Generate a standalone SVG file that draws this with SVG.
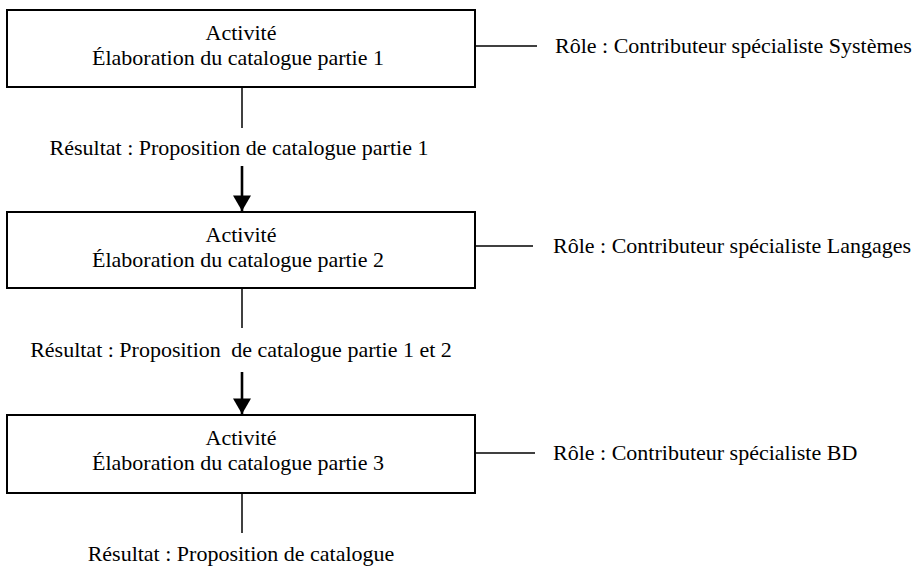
<svg xmlns="http://www.w3.org/2000/svg" width="915" height="569" viewBox="0 0 915 569">
<style>
.box{fill:#fff;stroke:#000;stroke-width:2}
.t{font-family:'Liberation Serif','Times New Roman',Times,serif;font-size:22px;fill:#000}
.c{text-anchor:middle}
.ln{stroke:#000;stroke-width:1.5;fill:none}
.ar{stroke:#000;stroke-width:2.6;fill:none}
</style>
<defs>
<marker id="ah" markerWidth="6" markerHeight="7" refX="6" refY="3.5" orient="auto" markerUnits="strokeWidth">
<path d="M0,0 L6,3.5 L0,7 z" fill="#000"/>
</marker>
</defs>
<rect width="915" height="569" fill="#fff"/>
<g id="connectors">
<line class="ln" x1="457" y1="46" x2="537" y2="46"/>
<line class="ln" x1="455" y1="246" x2="533" y2="246"/>
<line class="ln" x1="455" y1="453" x2="535" y2="453"/>
<line class="ln" x1="242" y1="88" x2="242" y2="128"/>
<line class="ln" x1="242" y1="288" x2="242" y2="328"/>
<line class="ln" x1="242" y1="493" x2="242" y2="533"/>
<line class="ar" x1="242" y1="166" x2="242" y2="211" marker-end="url(#ah)"/>
<line class="ar" x1="242" y1="372" x2="242" y2="414" marker-end="url(#ah)"/>
</g>
<g id="activite1">
<rect class="box" x="7" y="10" width="468" height="77"/>
<text class="t c" x="241" y="40">Activité</text>
<text class="t c" x="238" y="65">Élaboration du catalogue partie 1</text>
</g>
<g id="activite2">
<rect class="box" x="7" y="212" width="468" height="76"/>
<text class="t c" x="241" y="242">Activité</text>
<text class="t c" x="238" y="267">Élaboration du catalogue partie 2</text>
</g>
<g id="activite3">
<rect class="box" x="7" y="415" width="468" height="78"/>
<text class="t c" x="241" y="445">Activité</text>
<text class="t c" x="238" y="470">Élaboration du catalogue partie 3</text>
</g>
<g id="role1"><text class="t" x="555" y="53">Rôle : Contributeur spécialiste Systèmes</text></g>
<g id="role2"><text class="t" x="553" y="253">Rôle : Contributeur spécialiste Langages</text></g>
<g id="role3"><text class="t" x="553" y="460">Rôle : Contributeur spécialiste BD</text></g>
<g id="resultat1"><text class="t c" x="239" y="155">Résultat : Proposition de catalogue partie 1</text></g>
<g id="resultat2"><text class="t c" x="241" y="357">Résultat : Proposition <tspan dx="5">de catalogue partie 1 et 2</tspan></text></g>
<g id="resultat3"><text class="t c" x="241" y="561">Résultat : Proposition de catalogue</text></g>
</svg>
